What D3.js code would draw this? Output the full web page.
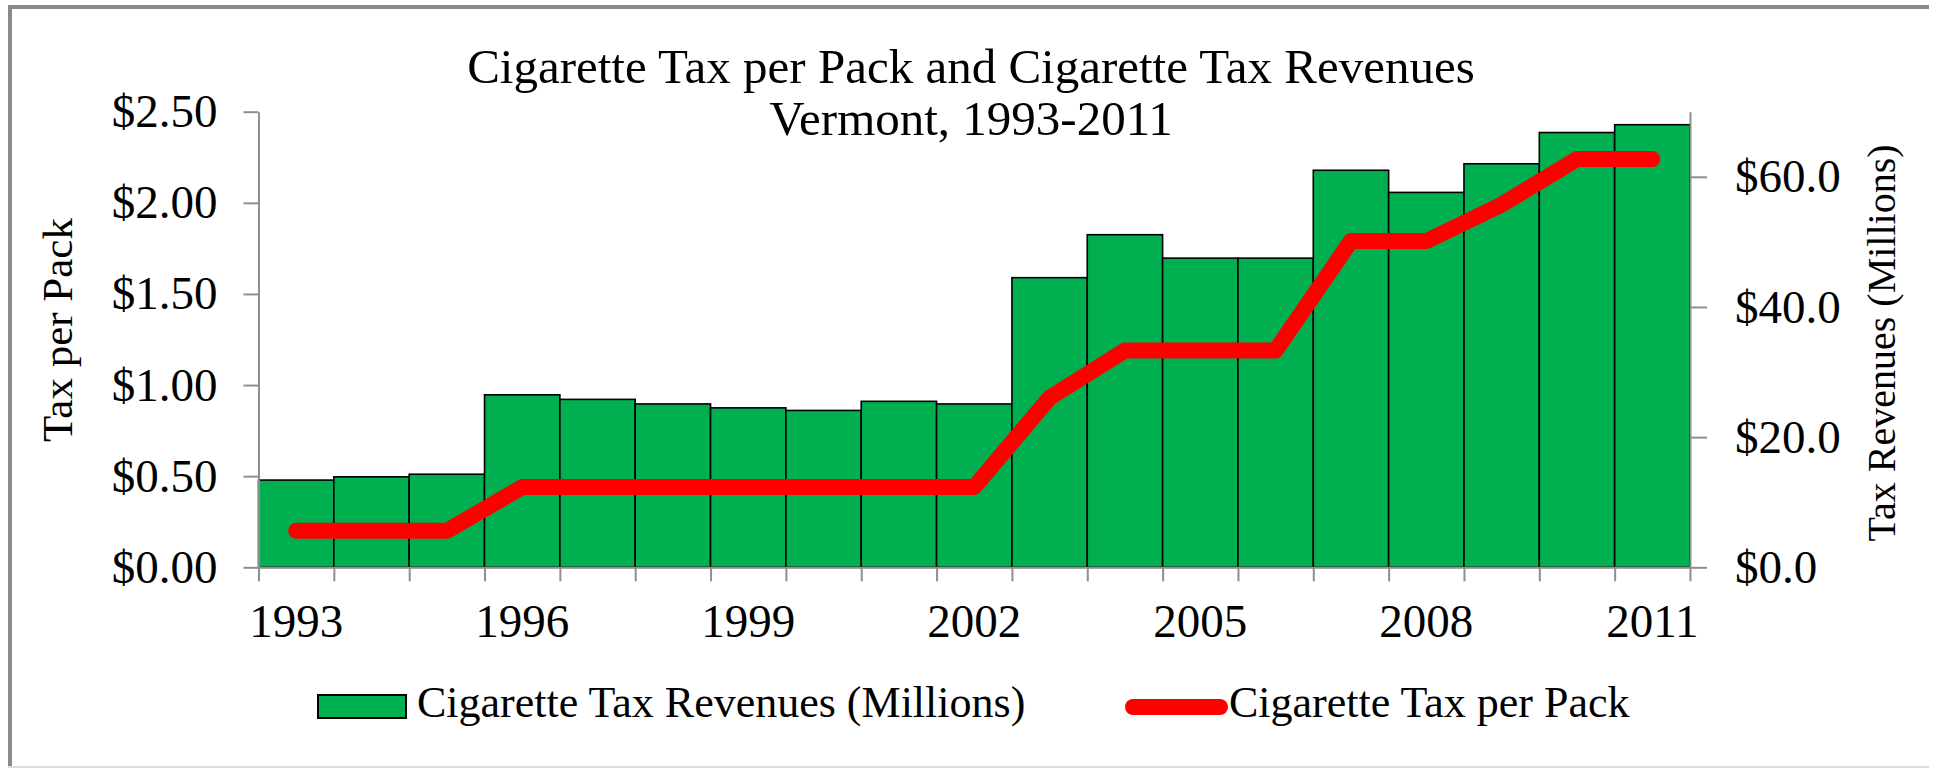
<!DOCTYPE html>
<html>
<head>
<meta charset="utf-8">
<title>Cigarette Tax per Pack and Cigarette Tax Revenues</title>
<script src="https://cdn.jsdelivr.net/npm/d3@7"></script>
<style>
	body { margin: 0; background: #fff; }
	svg { display: block; }
	text { font-family: Georgia, "Liberation Serif", "DejaVu Serif", serif; fill: #000; }
	.axis path, .axis line { stroke: #8f8f8f; stroke-width: 2; }
</style>
</head>
<body>
<svg id="chart"></svg>
<script>
/* jshint esversion: 6 */

// Data
const years = [1993, 1994, 1995, 1996, 1997, 1998, 1999, 2000, 2001, 2002,
	2003, 2004, 2005, 2006, 2007, 2008, 2009, 2010, 2011];
const revenues = [13.4, 13.9, 14.3, 26.5, 25.8, 25.1, 24.5, 24.1, 25.5, 25.1,
	44.5, 51.1, 47.5, 47.5, 61.0, 57.6, 62.0, 66.8, 68.0];
const taxPerPack = [0.20, 0.20, 0.20, 0.44, 0.44, 0.44, 0.44, 0.44, 0.44, 0.44,
	0.93, 1.19, 1.19, 1.19, 1.79, 1.79, 1.99, 2.24, 2.24];
const yearLabels = [1993, 1996, 1999, 2002, 2005, 2008, 2011];
const leftTicks = [0, 0.5, 1, 1.5, 2, 2.5];
const rightTicks = [0, 20, 40, 60];
const seriesNames = ["Cigarette Tax Revenues (Millions)", "Cigarette Tax per Pack"];
const titleLines = ["Cigarette Tax per Pack and Cigarette Tax Revenues", "Vermont, 1993-2011"];

(function(){
	///////////////////////////////////////////////////////////////////
	//// Inital Set Up ////////////////////////////////////////////////
	///////////////////////////////////////////////////////////////////
	const width = 1937;
	const height = 769;
	const plot = {left: 258.5, right: 1690, top: 111.7, bottom: 567.3};

	const green = "#00b050";
	const red = "#ff0000";

	const data = years.map((year, i) => ({
		year: year,
		revenue: revenues[i],
		tax: taxPerPack[i]
	}));

	///////////////////////////////////////////////////////////////////
	// Scales
	const x = d3.scaleBand()
			.domain(years)
			.range([plot.left, plot.right])
			.padding(0);

	// bar boundaries, used for the x tick marks
	const xEdge = d3.scaleLinear()
			.domain([0, years.length])
			.range([plot.left, plot.right]);

	const yLeft = d3.scaleLinear()
			.domain([0, 2.5])
			.range([plot.bottom, plot.top]);

	const yRight = d3.scaleLinear()
			.domain([0, 70])
			.range([plot.bottom, plot.top]);

	///////////////////////////////////////////////////////////////////
	// SVG container
	const svg = d3.select("#chart")
			.attr("width", width)
			.attr("height", height);

	svg.append("rect")
			.attr("width", width)
			.attr("height", height)
			.style("fill", "#fff");

	// frame around the chart (no right side in the picture)
	svg.append("line")
			.attr("x1", 8).attr("x2", 1929)
			.attr("y1", 7).attr("y2", 7)
			.style("stroke", "#8a8a8a")
			.style("stroke-width", 4);

	svg.append("line")
			.attr("x1", 10).attr("x2", 10)
			.attr("y1", 5).attr("y2", 767)
			.style("stroke", "#8a8a8a")
			.style("stroke-width", 4);

	svg.append("line")
			.attr("x1", 8).attr("x2", 1929)
			.attr("y1", 767).attr("y2", 767)
			.style("stroke", "#dcdcdc")
			.style("stroke-width", 2);

	///////////////////////////////////////////////////////////////////
	//// Title ////////////////////////////////////////////////////////
	///////////////////////////////////////////////////////////////////
	svg.append("g")
			.attr("class", "title")
		.selectAll("text")
		.data(titleLines)
		.enter().append("text")
			.attr("x", 971)
			.attr("y", (d, i) => 83 + i * 52)
			.attr("text-anchor", "middle")
			.style("font-size", "49px")
			.text(d => d);

	///////////////////////////////////////////////////////////////////
	//// Bars and line ////////////////////////////////////////////////
	///////////////////////////////////////////////////////////////////
	svg.append("g")
			.attr("class", "bars")
		.selectAll("rect")
		.data(data)
		.enter().append("rect")
			.attr("x", d => x(d.year))
			.attr("y", d => yRight(d.revenue))
			.attr("width", x.bandwidth())
			.attr("height", d => yRight(0) - yRight(d.revenue))
			.style("fill", green)
			.style("stroke", "#000")
			.style("stroke-width", 1.6);

	///////////////////////////////////////////////////////////////////
	// Axes
	svg.append("g")
			.attr("class", "axis y-axis-left")
			.attr("transform", `translate(${plot.left}, 0)`)
			.call(d3.axisLeft(yLeft)
				.tickValues(leftTicks)
				.tickSize(15)
				.tickSizeOuter(0)
				.tickPadding(26)
				.tickFormat(d3.format("$.2f")));

	svg.append("g")
			.attr("class", "axis y-axis-right")
			.attr("transform", `translate(${plot.right}, 0)`)
			.call(d3.axisRight(yRight)
				.tickValues(rightTicks)
				.tickSize(17)
				.tickSizeOuter(0)
				.tickPadding(28)
				.tickFormat(d3.format("$.1f")));

	svg.append("g")
			.attr("class", "axis x-axis-ticks")
			.attr("transform", `translate(0, ${plot.bottom})`)
			.call(d3.axisBottom(xEdge)
				.tickValues(d3.range(years.length + 1))
				.tickSize(14)
				.tickSizeOuter(0)
				.tickFormat(""));

	const xLabels = svg.append("g")
			.attr("class", "axis x-axis-labels")
			.attr("transform", `translate(0, ${plot.bottom})`)
			.call(d3.axisBottom(x)
				.tickValues(yearLabels)
				.tickSize(0)
				.tickFormat(d3.format("d")));

	xLabels.select(".domain").remove();
	xLabels.selectAll("text")
			.attr("y", 70)
			.attr("dy", 0);

	svg.selectAll(".axis text")
			.style("font-family", "Georgia, 'Liberation Serif', serif")
			.style("font-size", "47px")
			.style("fill", "#000");

	///////////////////////////////////////////////////////////////////
	// Tax per pack line (drawn on top of the axes, as in the picture)
	const line = d3.line()
			.x(d => x(d.year) + x.bandwidth() / 2)
			.y(d => yLeft(d.tax));

	svg.append("path")
			.datum(data)
			.attr("class", "line")
			.attr("d", line)
			.style("fill", "none")
			.style("stroke", red)
			.style("stroke-width", 16)
			.style("stroke-linejoin", "round")
			.style("stroke-linecap", "round");

	///////////////////////////////////////////////////////////////////
	// Axis titles
	svg.append("text")
			.attr("transform", "translate(72, 330) rotate(-90)")
			.attr("text-anchor", "middle")
			.style("font-size", "43px")
			.text("Tax per Pack");

	svg.append("text")
			.attr("transform", "translate(1895, 343) rotate(-90)")
			.attr("text-anchor", "middle")
			.style("font-size", "40px")
			.text("Tax Revenues (Millions)");

	///////////////////////////////////////////////////////////////////
	//// Legend ///////////////////////////////////////////////////////
	///////////////////////////////////////////////////////////////////
	const legend = svg.append("g")
			.attr("class", "legend");

	legend.append("rect")
			.attr("x", 318)
			.attr("y", 695)
			.attr("width", 88)
			.attr("height", 23)
			.style("fill", green)
			.style("stroke", "#000")
			.style("stroke-width", 2);

	legend.append("line")
			.attr("x1", 1133)
			.attr("x2", 1220)
			.attr("y1", 707)
			.attr("y2", 707)
			.style("stroke", red)
			.style("stroke-width", 16)
			.style("stroke-linecap", "round");

	legend.selectAll(".legend-label")
		.data(seriesNames)
		.enter().append("text")
			.attr("class", "legend-label")
			.attr("x", (d, i) => i === 0 ? 417 : 1229)
			.attr("y", 717)
			.style("font-size", "44px")
			.text(d => d);
}());
</script>
</body>
</html>
